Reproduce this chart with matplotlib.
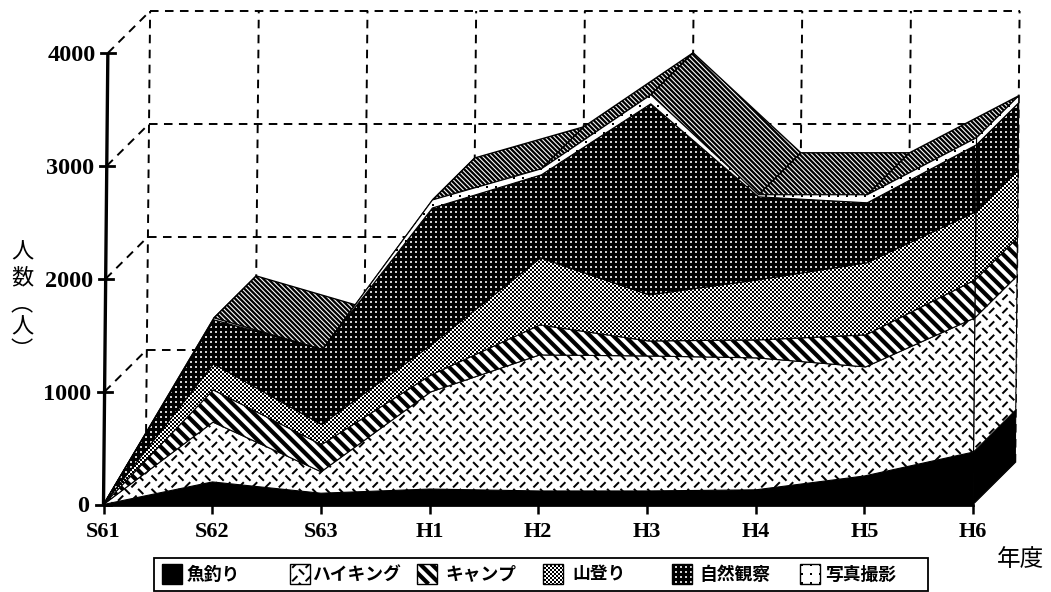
import numpy as np
import matplotlib
matplotlib.use("Agg")
import matplotlib.pyplot as plt
from matplotlib.collections import LineCollection
from matplotlib.patches import Polygon, Rectangle
from matplotlib.transforms import Affine2D, IdentityTransform, ScaledTranslation

# Visitors per year, by activity
years = ["S61", "S62", "S63", "H1", "H2", "H3", "H4", "H5", "H6"]
fishing = [0, 200, 100, 137, 120, 120, 130, 253, 465]
hiking = [0, 530, 190, 860, 1205, 1196, 1169, 966, 1188]
camping = [0, 285, 240, 150, 266, 133, 159, 284, 337]
climbing = [0, 231, 178, 266, 594, 408, 532, 638, 603]
nature = [0, 390, 665, 1214, 736, 1693, 736, 532, 594]
photo = [0, 17, 0, 71, 53, 80, 18, 71, 62]
layer_names = ["魚釣り", "ハイキング", "キャンプ", "山登り", "自然観察", "写真撮影"]
y_ticks = [0, 1000, 2000, 3000, 4000]

W, H = 1051, 592
DEPTH_X, DEPTH_Y = 0.385, 372     # extrusion of the 3-D box in data units
LEAN = 1.0e-5                     # slight lean of the vertical axis

CJK = ["Noto Sans CJK JP", "DejaVu Sans"]
SERIF = "Liberation Serif"

fig = plt.figure(figsize=(W / 100, H / 100), dpi=100)
ax = fig.add_axes([103.5 / W, 1 - 504.5 / H, 869.5 / W, 451.5 / H])
ax.set_xlim(0, 8)
ax.set_ylim(0, 4000)
ax.set_autoscale_on(False)
ax.patch.set_visible(False)
for s in ax.spines.values():
    s.set_visible(False)

tr = Affine2D(np.array([[1, LEAN, 0], [0, 1, 0], [0, 0, 1]], float)) + ax.transData
page = Affine2D().scale(1, -1).translate(0, H)   # pixels, origin top-left

z = [10]


def next_z():
    z[0] += 1
    return z[0]


def clip_to(artist, patch):
    artist.set_clip_box(None)
    artist.set_clip_path(patch)


def grid_points(box, step_x, step_y):
    xs = np.arange(np.floor(box[0] / step_x), np.ceil(box[2] / step_x) + 1)
    ys = np.arange(np.floor(box[1] / step_y), np.ceil(box[3] / step_y) + 1)
    return np.meshgrid(xs, ys)


def dots(box, step, size, color, order, clip, stagger=False):
    i, j = grid_points(box, step, step)
    if stagger:
        keep = (i + j) % 2 == 0
        i, j = i[keep], j[keep]
    c = ax.scatter(np.ravel(i) * step + 0.5, np.ravel(j) * step + 0.5, s=(size * 0.72) ** 2,
                   marker="s", c=color, linewidths=0, transform=IdentityTransform(),
                   zorder=order)
    clip_to(c, clip)


def stripes(box, period, width, order, clip):
    # descending diagonals, one every `period` pixels horizontally
    h = box[3] - box[1]
    starts = np.arange(box[0] - period, box[2] + h + period, period)
    segs = [[(s, box[1]), (s - h - period, box[3] + period)] for s in starts]
    c = LineCollection(segs, colors="k", linewidths=width * 0.72,
                       transform=IdentityTransform(), zorder=order)
    ax.add_collection(c, autolim=False)
    clip_to(c, clip)


def tread(box, order, clip):
    # short alternating strokes of a tread-plate texture
    step = 6.7
    i, j = grid_points(box, step, step)
    keep = (i + j) % 2 == 0
    i, j = i[keep], j[keep]
    cx, cy = i * step, j * step
    sign = np.where(i % 2 == 0, 1.0, -1.0)
    d = 2.6
    segs = [[(x - d, y - s * d), (x + d, y + s * d)] for x, y, s in zip(cx, cy, sign)]
    c = LineCollection(segs, colors="k", linewidths=2.0 * 0.72, capstyle="butt",
                       transform=IdentityTransform(), zorder=order)
    ax.add_collection(c, autolim=False)
    clip_to(c, clip)


def textured(verts, kind, transform=tr, edge=0.8):
    """Polygon with one of the monochrome print textures."""
    order = next_z()
    face = "k" if kind in ("solid", "dotted") else "w"
    backing = Polygon(verts, closed=True, facecolor=face, edgecolor="none",
                      transform=transform, zorder=order, clip_on=False)
    ax.add_patch(backing)
    outline = Polygon(verts, closed=True, facecolor="none", edgecolor="k", linewidth=edge,
                      transform=transform, zorder=order + 0.5, clip_on=False)
    ax.add_patch(outline)
    box = transform.transform(np.asarray(verts, float))
    box = (box[:, 0].min(), box[:, 1].min(), box[:, 0].max(), box[:, 1].max())
    if kind == "tread":
        tread(box, order + 0.2, backing)
    elif kind == "bars":
        stripes(box, 11.5, 4.2, order + 0.2, backing)
    elif kind == "fine":
        stripes(box, 4.8, 2.3, order + 0.2, backing)
    elif kind == "halftone":
        dots(box, 2, 2.0, "k", order + 0.2, backing, stagger=True)
    elif kind == "dotted":
        dots(box, 5, 1.1, "#cfcfcf", order + 0.2, backing)
    elif kind == "sparse":
        dots(box, 9, 1.6, "k", order + 0.2, backing)


layers = np.array([fishing, hiking, camping, climbing, nature, photo], float)
tops = np.cumsum(layers, axis=0)
bottoms = np.vstack([np.zeros(len(years)), tops[:-1]])
total = tops[-1]
xpos = np.arange(len(years), dtype=float)
kinds = ["solid", "tread", "bars", "halftone", "dotted", "sparse"]
last = xpos[-1]

# Dashed wall of the box, behind everything else
dash = dict(color="k", lw=1.4, linestyle=(0, (4.4, 3.3)), transform=tr, clip_on=False, zorder=2)
for v in y_ticks[1:]:
    ax.plot([DEPTH_X, last + DEPTH_X], [v + DEPTH_Y, v + DEPTH_Y], **dash)
    ax.plot([0, DEPTH_X], [v, v + DEPTH_Y], **dash)
for x in xpos:
    ax.plot([x + DEPTH_X, x + DEPTH_X], [DEPTH_Y, 4000 + DEPTH_Y], **dash)

# Upper surface of the stack, receding from the front face
for i in range(len(years) - 1):
    textured([(xpos[i], total[i]), (xpos[i + 1], total[i + 1]),
              (xpos[i + 1] + DEPTH_X, total[i + 1] + DEPTH_Y),
              (xpos[i] + DEPTH_X, total[i] + DEPTH_Y)], "fine", edge=1.0)

# Right-hand side of the box
for low, high, kind in zip(bottoms[:, -1], tops[:, -1], kinds):
    textured([(last, low), (last + DEPTH_X, low + DEPTH_Y),
              (last + DEPTH_X, high + DEPTH_Y), (last, high)], kind)

# Front face: stacked areas
for low, high, kind in zip(bottoms, tops, kinds):
    textured(list(zip(xpos, high)) + list(zip(xpos[::-1], low[::-1])), kind)

# Axes
ax.plot([0, 0], [0, 4000], color="k", lw=2.4, transform=tr, clip_on=False, zorder=60,
        solid_capstyle="butt")
ax.plot([0, last], [0, 0], color="k", lw=2.0, transform=tr, clip_on=False, zorder=60)
for v in y_ticks:
    ax.plot([-0.065, 0.065], [v, v], color="k", lw=2.0, transform=tr, clip_on=False, zorder=60)

ax.set_xticks(xpos, years, fontfamily=SERIF, fontweight="bold", fontsize=16)
ax.tick_params(axis="x", length=6.5, width=1.8, pad=6)
ax.set_yticks(y_ticks, [str(v) for v in y_ticks], fontfamily=SERIF, fontweight="bold", fontsize=17.5)
ax.tick_params(axis="y", length=0, pad=10)
for v, label in zip(y_ticks, ax.get_yticklabels()):
    shift = LEAN * v * 869.5 / 8 / 72
    label.set_transform(label.get_transform() + ScaledTranslation(shift, 0, fig.dpi_scale_trans))

# Vertical axis title, set top to bottom with vertical-form brackets
for text, x, y in [("人", 22, 252), ("数", 22, 278), ("︵", 22, 304),
                   ("人", 22, 327), ("︶", 22, 351)]:
    ax.text(x, y, text, transform=page, family=CJK, fontsize=16, ha="center", va="center",
            clip_on=False)
ax.text(1020, 560, "年度", transform=page, family=CJK, fontsize=17, ha="center", va="center",
        clip_on=False)

# Legend
ax.add_patch(Rectangle((154, 558), 774, 33, facecolor="w", edgecolor="k", linewidth=1.3,
                       transform=page, clip_on=False, zorder=70))
z[0] = 71
swatch_x = [162, 290, 417, 543, 672, 800]
text_x = [187, 312, 445, 572, 699, 825]
for sx, tx, name, kind in zip(swatch_x, text_x, layer_names, kinds):
    textured([(sx, 564), (sx + 20, 564), (sx + 20, 584), (sx, 584)], kind, transform=page, edge=1.0)
    ax.text(tx, 574.5, name, transform=page, family=CJK, fontweight="bold", fontsize=12.8,
            ha="left", va="center", clip_on=False, zorder=90)

fig.savefig("out.png", dpi=100)
